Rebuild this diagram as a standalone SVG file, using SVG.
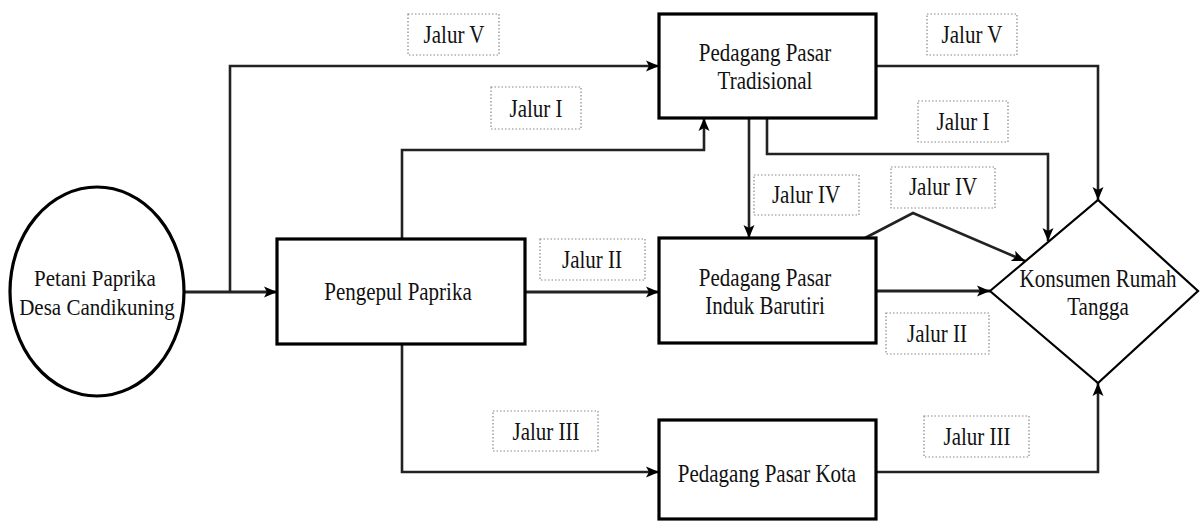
<svg xmlns="http://www.w3.org/2000/svg" width="1200" height="523" viewBox="0 0 1200 523">
<style>
.node{fill:#fff;stroke:#000;stroke-width:3.2}
.dia{fill:#fff;stroke:#000;stroke-width:2.2}
.t{font-family:'Liberation Serif','Times New Roman','DejaVu Serif',serif;font-size:24px;fill:#111;text-anchor:middle}
.lbl{fill:#fff;stroke:#888;stroke-width:1.2;stroke-dasharray:1.5 2}
.c{fill:none;stroke:#222;stroke-width:2.6;marker-end:url(#ah)}
.ck{stroke-width:3.2}
</style>
<defs>
<marker id="ah" markerUnits="userSpaceOnUse" markerWidth="14" markerHeight="12" refX="13" refY="6" orient="auto">
<path d="M0,0.5 L13,6 L0,11.5 L3,6 Z" fill="#000"/>
</marker>
</defs>
<rect width="1200" height="523" fill="#fff"/>
<g id="connectors">
<path class="c ck" d="M184,292 L277,292"/>
<path class="c" d="M230,292 L230,66 L659,66"/>
<path class="c" d="M402,239 L402,150 L704,150 L704,118"/>
<path class="c ck" d="M525,292 L659,292"/>
<path class="c" d="M402,344 L402,472 L659,472"/>
<path class="c" d="M749,118 L749,238"/>
<path class="c" d="M876,66 L1098,66 L1098,200"/>
<path class="c" d="M767,118 L767,154 L1048,154 L1048,241"/>
<path class="c" d="M865,238 L913,213 L1025,261"/>
<path class="c ck" d="M876,291 L990,291"/>
<path class="c" d="M876,472 L1098,472 L1098,383"/>
</g>
<g id="labels">
<g id="lbl-v1"><rect class="lbl" x="408" y="14" width="91" height="41"/><text class="t" transform="translate(454,43) scale(0.875,1.08)">Jalur V</text></g>
<g id="lbl-i1"><rect class="lbl" x="491" y="87" width="90" height="42"/><text class="t" transform="translate(536,117) scale(0.875,1.08)">Jalur I</text></g>
<g id="lbl-ii1"><rect class="lbl" x="540" y="239" width="105" height="41"/><text class="t" transform="translate(592,268) scale(0.875,1.08)">Jalur II</text></g>
<g id="lbl-iii1"><rect class="lbl" x="493" y="411" width="105" height="40"/><text class="t" transform="translate(546,440) scale(0.875,1.08)">Jalur III</text></g>
<g id="lbl-iv1"><rect class="lbl" x="754" y="175" width="105" height="40"/><text class="t" transform="translate(806,203) scale(0.875,1.08)">Jalur IV</text></g>
<g id="lbl-iv2"><rect class="lbl" x="891" y="167" width="104" height="41"/><text class="t" transform="translate(943,195) scale(0.875,1.08)">Jalur IV</text></g>
<g id="lbl-ii2"><rect class="lbl" x="886" y="313" width="103" height="41"/><text class="t" transform="translate(937,342) scale(0.875,1.08)">Jalur II</text></g>
<g id="lbl-v2"><rect class="lbl" x="927" y="14" width="90" height="41"/><text class="t" transform="translate(972,43) scale(0.875,1.08)">Jalur V</text></g>
<g id="lbl-i2"><rect class="lbl" x="918" y="101" width="90" height="41"/><text class="t" transform="translate(963,130) scale(0.875,1.08)">Jalur I</text></g>
<g id="lbl-iii2"><rect class="lbl" x="924" y="416" width="105" height="41"/><text class="t" transform="translate(977,445) scale(0.875,1.08)">Jalur III</text></g>
</g>
<g id="petani">
<ellipse class="node" cx="97" cy="291.5" rx="87" ry="104.5"/>
<text class="t" transform="translate(95,286) scale(0.875,1)">Petani Paprika</text>
<text class="t" transform="translate(97,315) scale(0.875,1)">Desa Candikuning</text>
</g>
<g id="pengepul">
<rect class="node" x="277" y="239" width="248" height="105"/>
<text class="t" transform="translate(398,300) scale(0.875,1.08)">Pengepul Paprika</text>
</g>
<g id="tradisional">
<rect class="node" x="659" y="14" width="217" height="104"/>
<text class="t" transform="translate(765,61) scale(0.875,1.08)">Pedagang Pasar</text>
<text class="t" transform="translate(765,89) scale(0.875,1.08)">Tradisional</text>
</g>
<g id="induk">
<rect class="node" x="659" y="238" width="217" height="105"/>
<text class="t" transform="translate(765,286) scale(0.875,1.08)">Pedagang Pasar</text>
<text class="t" transform="translate(765,314) scale(0.875,1.08)">Induk Barutiri</text>
</g>
<g id="kota">
<rect class="node" x="659" y="420" width="217" height="99"/>
<text class="t" transform="translate(767,482) scale(0.875,1.08)">Pedagang Pasar Kota</text>
</g>
<g id="konsumen">
<polygon class="dia" points="990,291 1098,200 1198,291 1098,383"/>
<text class="t" transform="translate(1098,287) scale(0.875,1.08)">Konsumen Rumah</text>
<text class="t" transform="translate(1098,315) scale(0.875,1.08)">Tangga</text>
</g>
</svg>
